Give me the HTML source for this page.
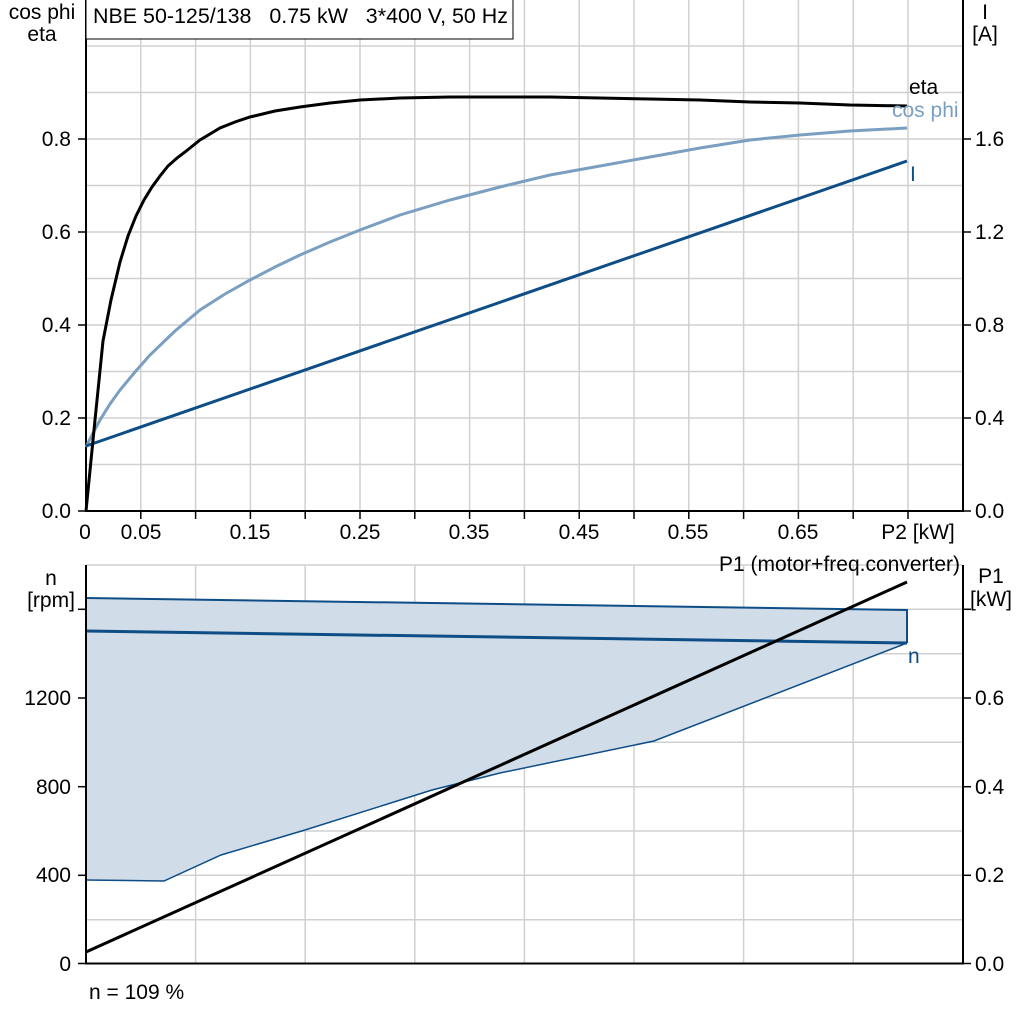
<!DOCTYPE html>
<html><head><meta charset="utf-8"><style>
html,body{margin:0;padding:0;background:#fff;}
svg{display:block;font-family:"Liberation Sans",Arial,sans-serif;}
</style></head><body>
<svg width="1024" height="1024" viewBox="0 0 1024 1024" xmlns="http://www.w3.org/2000/svg">
<rect width="1024" height="1024" fill="#fff"/>
<g stroke="#d0d0d0" stroke-width="1.5">
<line x1="140.8" y1="0" x2="140.8" y2="511"/><line x1="195.6" y1="0" x2="195.6" y2="511"/>
<line x1="250.4" y1="0" x2="250.4" y2="511"/><line x1="305.2" y1="0" x2="305.2" y2="511"/>
<line x1="360" y1="0" x2="360" y2="511"/><line x1="414.8" y1="0" x2="414.8" y2="511"/>
<line x1="469.6" y1="0" x2="469.6" y2="511"/><line x1="524.4" y1="0" x2="524.4" y2="511"/>
<line x1="579.2" y1="0" x2="579.2" y2="511"/><line x1="634" y1="0" x2="634" y2="511"/>
<line x1="688.8" y1="0" x2="688.8" y2="511"/><line x1="743.6" y1="0" x2="743.6" y2="511"/>
<line x1="798.4" y1="0" x2="798.4" y2="511"/><line x1="853.2" y1="0" x2="853.2" y2="511"/>
<line x1="908" y1="0" x2="908" y2="511"/>
<line x1="86" y1="464.5" x2="963" y2="464.5"/><line x1="86" y1="418" x2="963" y2="418"/>
<line x1="86" y1="371.5" x2="963" y2="371.5"/><line x1="86" y1="325" x2="963" y2="325"/>
<line x1="86" y1="278.5" x2="963" y2="278.5"/><line x1="86" y1="232" x2="963" y2="232"/>
<line x1="86" y1="185.5" x2="963" y2="185.5"/><line x1="86" y1="139" x2="963" y2="139"/>
<line x1="86" y1="92.5" x2="963" y2="92.5"/><line x1="86" y1="46" x2="963" y2="46"/>
</g>
<g stroke="#000" stroke-width="2" fill="none">
<line x1="86" y1="0" x2="86" y2="512"/><line x1="85" y1="511" x2="964" y2="511"/>
<line x1="963" y1="0" x2="963" y2="512"/>
</g>
<g stroke="#000" stroke-width="1.5">
<line x1="78" y1="511" x2="86" y2="511"/><line x1="78" y1="418" x2="86" y2="418"/><line x1="78" y1="325" x2="86" y2="325"/><line x1="78" y1="232" x2="86" y2="232"/><line x1="78" y1="139" x2="86" y2="139"/>
<line x1="963" y1="511" x2="971" y2="511"/><line x1="963" y1="418" x2="971" y2="418"/><line x1="963" y1="325" x2="971" y2="325"/><line x1="963" y1="232" x2="971" y2="232"/><line x1="963" y1="139" x2="971" y2="139"/>
<line x1="140.8" y1="511" x2="140.8" y2="519"/><line x1="195.6" y1="511" x2="195.6" y2="519"/><line x1="250.4" y1="511" x2="250.4" y2="519"/><line x1="305.2" y1="511" x2="305.2" y2="519"/><line x1="360" y1="511" x2="360" y2="519"/><line x1="414.8" y1="511" x2="414.8" y2="519"/><line x1="469.6" y1="511" x2="469.6" y2="519"/><line x1="524.4" y1="511" x2="524.4" y2="519"/><line x1="579.2" y1="511" x2="579.2" y2="519"/><line x1="634" y1="511" x2="634" y2="519"/><line x1="688.8" y1="511" x2="688.8" y2="519"/><line x1="743.6" y1="511" x2="743.6" y2="519"/><line x1="798.4" y1="511" x2="798.4" y2="519"/><line x1="853.2" y1="511" x2="853.2" y2="519"/><line x1="908" y1="511" x2="908" y2="519"/>
</g>
<rect x="86" y="-1" width="427" height="40" fill="#fff" stroke="#000" stroke-width="1"/>
<text x="93" y="23" font-size="21" textLength="415" lengthAdjust="spacingAndGlyphs">NBE 50-125/138 &#160; 0.75 kW &#160; 3*400 V, 50 Hz</text>
<g font-size="21" fill="#000">
<text x="42" y="19" text-anchor="middle">cos phi</text>
<text x="42" y="41" text-anchor="middle">eta</text>
<text x="71" y="518" text-anchor="end">0.0</text><text x="71" y="425" text-anchor="end">0.2</text><text x="71" y="332" text-anchor="end">0.4</text><text x="71" y="239" text-anchor="end">0.6</text><text x="71" y="146" text-anchor="end">0.8</text>
<text x="975" y="518">0.0</text><text x="975" y="425">0.4</text><text x="975" y="332">0.8</text><text x="975" y="239">1.2</text><text x="975" y="146">1.6</text>
<text x="985" y="19" text-anchor="middle">I</text><text x="985" y="41" text-anchor="middle">[A]</text>
<text x="85" y="539" text-anchor="middle">0</text><text x="141" y="539" text-anchor="middle">0.05</text><text x="250" y="539" text-anchor="middle">0.15</text><text x="360" y="539" text-anchor="middle">0.25</text><text x="469" y="539" text-anchor="middle">0.35</text><text x="579" y="539" text-anchor="middle">0.45</text><text x="688" y="539" text-anchor="middle">0.55</text><text x="798" y="539" text-anchor="middle">0.65</text><text x="918" y="539" text-anchor="middle">P2 [kW]</text>
</g>
<polyline fill="none" stroke="#7b9fc0" stroke-width="3" points="86,447 93,433 100,420 110,404 120,390 135,372 150,355 175,331 200,310 225,294 250,280 275,267 300,255 330,242 360,230 400,215 450,200 500,187 550,175 600,166 650,157 700,148 750,140 800,135 850,131 907,128"/>
<polyline fill="none" stroke="#0e4d86" stroke-width="3" points="86,446 907,161"/>
<polyline fill="none" stroke="#000" stroke-width="3" points="86,511 95,420 103,341 111,300 120,262 128,236 136,216 144,200 152,187 160,176 168,166 177,158 185,152 200,140 220,128 235,122 250,117 275,111 300,107 330,103 360,100 400,98 450,97 500,97 550,97 600,98 650,99 700,100 750,102 800,103 850,105 907,106"/>
<g font-size="21">
<text x="909" y="94" fill="#000">eta</text>
<text x="892" y="117" fill="#7b9fc0">cos phi</text>
<text x="910" y="181" fill="#0e4d86">I</text>
</g>
<g stroke="#d0d0d0" stroke-width="1.5">
<line x1="86" y1="565" x2="963" y2="565"/>
<line x1="195.6" y1="565" x2="195.6" y2="963"/><line x1="305.2" y1="565" x2="305.2" y2="963"/>
<line x1="414.8" y1="565" x2="414.8" y2="963"/><line x1="524.4" y1="565" x2="524.4" y2="963"/>
<line x1="634" y1="565" x2="634" y2="963"/><line x1="743.6" y1="565" x2="743.6" y2="963"/>
<line x1="853.2" y1="565" x2="853.2" y2="963"/>
<line x1="86" y1="919.7" x2="963" y2="919.7"/><line x1="86" y1="875.3" x2="963" y2="875.3"/>
<line x1="86" y1="831" x2="963" y2="831"/><line x1="86" y1="786.7" x2="963" y2="786.7"/>
<line x1="86" y1="742.3" x2="963" y2="742.3"/><line x1="86" y1="698" x2="963" y2="698"/>
<line x1="86" y1="653.7" x2="963" y2="653.7"/><line x1="86" y1="609.3" x2="963" y2="609.3"/>
</g>
<polygon fill="#d0dce7" points="86,598 907,610 907,643 654,741 500,773 432,790 305,830 221,855 164,881 86,880"/>
<polyline fill="none" stroke="#0e4d86" stroke-width="2" points="86,598 907,610 907,643"/>
<polyline fill="none" stroke="#0e4d86" stroke-width="1.5" points="86,880 164,881 221,855 305,830 432,790 500,773 654,741 907,643"/>
<line x1="86" y1="631" x2="907" y2="643" stroke="#0e4d86" stroke-width="3"/>
<line x1="86" y1="952" x2="907" y2="582" stroke="#000" stroke-width="3"/>
<g stroke="#000" stroke-width="2">
<line x1="86" y1="565" x2="86" y2="964"/><line x1="85" y1="963.5" x2="964" y2="963.5"/>
<line x1="963" y1="565" x2="963" y2="964"/>
</g>
<g stroke="#000" stroke-width="1.5">
<line x1="78" y1="963.5" x2="86" y2="963.5"/><line x1="78" y1="875.3" x2="86" y2="875.3"/><line x1="78" y1="786.7" x2="86" y2="786.7"/><line x1="78" y1="698" x2="86" y2="698"/><line x1="78" y1="609.3" x2="86" y2="609.3"/>
<line x1="963" y1="963.5" x2="971" y2="963.5"/><line x1="963" y1="875.3" x2="971" y2="875.3"/><line x1="963" y1="786.7" x2="971" y2="786.7"/><line x1="963" y1="698" x2="971" y2="698"/><line x1="963" y1="609.3" x2="971" y2="609.3"/>
</g>
<g font-size="21" fill="#000">
<text x="51" y="585" text-anchor="middle">n</text><text x="51" y="607" text-anchor="middle">[rpm]</text>
<text x="71" y="971" text-anchor="end">0</text><text x="71" y="882" text-anchor="end">400</text><text x="71" y="794" text-anchor="end">800</text><text x="71" y="705" text-anchor="end">1200</text>
<text x="975" y="971">0.0</text><text x="975" y="882">0.2</text><text x="975" y="794">0.4</text><text x="975" y="705">0.6</text>
<text x="991" y="583" text-anchor="middle">P1</text><text x="991" y="606" text-anchor="middle">[kW]</text>
<text x="960" y="571" text-anchor="end">P1 (motor+freq.converter)</text>
<text x="908" y="663" fill="#0e4d86">n</text>
<text x="89" y="999">n = 109 %</text>
</g>
</svg>
</body></html>
